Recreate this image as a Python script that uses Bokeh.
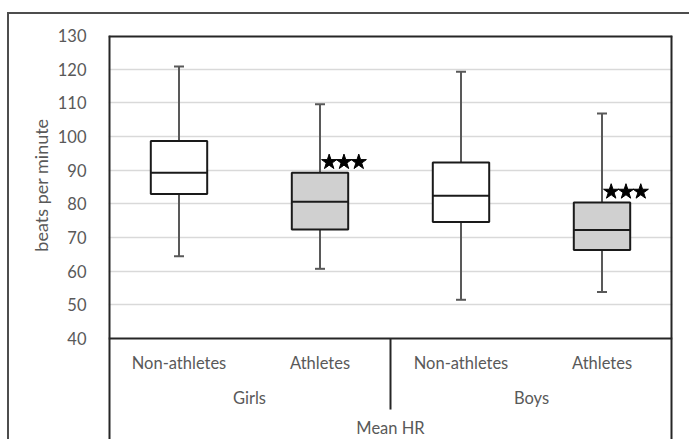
from bokeh.plotting import figure
from bokeh.models import (FactorRange, Range1d, ColumnDataSource, Whisker, TeeHead,
                          FixedTicker, Span, Title)
from bokeh.transform import dodge
from bokeh.core.properties import value
from bokeh.embed import file_html
from bokeh.resources import INLINE

# ---- data ----
groups = ["Girls", "Girls", "Boys", "Boys"]
subgroups = ["Non-athletes", "Athletes", "Non-athletes", "Athletes"]
whisker_hi = [120.8, 109.6, 119.2, 106.8]
q3 = [98.7, 89.2, 92.3, 80.4]
median = [89.2, 80.6, 82.4, 72.2]
q1 = [82.9, 72.4, 74.6, 66.3]
whisker_lo = [64.4, 60.7, 51.5, 53.8]
n_stars = [0, 3, 0, 3]
box_colors = ["#ffffff", "#d0d0d0", "#ffffff", "#d0d0d0"]
y_ticks = [40, 50, 60, 70, 80, 90, 100, 110, 120, 130]
x_title = "Mean HR"
y_title = "beats per minute"

FONT = "Lato"
FS = "16.5px"
TXT = "#595959"
LINE = "#262626"

factors = list(zip(groups, subgroups))
src = ColumnDataSource(dict(x=factors, sub=subgroups, hi=whisker_hi, q3=q3, med=median,
                            q1=q1, lo=whisker_lo, color=box_colors))

# value axis spans 40..130 in the plot area; the category band below it extends the frame
y_min_band = 10
xr = FactorRange(*factors, range_padding=0, group_padding=0, factor_padding=0,
                 subgroup_padding=0)
p = figure(x_range=xr, y_range=Range1d(y_min_band, y_ticks[-1]), width=689, height=439,
           output_backend="svg", toolbar_location=None, x_axis_location=None,
           min_border_left=108, min_border_right=17, min_border_top=35, min_border_bottom=0)
p.outline_line_color = None
p.background_fill_color = "white"
p.border_fill_color = None
p.styles = {
    "background-color": "white",
    "background-image": "linear-gradient(#4d4d4d, #4d4d4d), linear-gradient(#4d4d4d, #4d4d4d)",
    "background-size": "100% 2px, 2px 100%",
    "background-position": "7px 12px, 7px 12px",
    "background-repeat": "no-repeat",
}

yax = p.yaxis[0]
yax.ticker = FixedTicker(ticks=y_ticks)
yax.axis_line_color = None
yax.major_tick_line_color = None
yax.minor_tick_line_color = None
yax.major_label_standoff = 16
yax.major_label_text_font = FONT
yax.major_label_text_font_size = FS
yax.major_label_text_color = TXT

ytitle = Title(text=y_title, align="right", offset=83, text_font=FONT,
               text_font_size="18px", text_font_style="normal", text_color=TXT, standoff=5)
p.add_layout(ytitle, "left")

p.ygrid.ticker = FixedTicker(ticks=y_ticks[1:-1])
p.ygrid.grid_line_color = "#d9d9d9"
p.ygrid.grid_line_width = 1.5
p.xgrid.visible = False

# frame borders (top, left, right; the band continues below the picture)
p.add_layout(Span(location=y_ticks[-1], dimension="width", line_color=LINE, line_width=4))
p.add_layout(Span(location=0, dimension="height", line_color=LINE, line_width=4))
p.add_layout(Span(location=len(factors), dimension="height", line_color=LINE, line_width=4))
# baseline between the value area and the category band
p.add_layout(Span(location=y_ticks[0], dimension="width", line_color=LINE, line_width=2))
# separator between the two groups in the category band
p.segment(x0=[2], x1=[2], y0=[y_ticks[0]], y1=[18.9], line_color=LINE, line_width=2)

# boxes
p.vbar(x="x", width=0.4, top="q3", bottom="q1", source=src, fill_color="color",
       line_color="#1a1a1a", line_width=2)

# whiskers
wcol = "#595959"
w = Whisker(base="x", upper="hi", lower="lo", source=src, line_color=wcol, line_width=2,
            upper_head=TeeHead(size=10, line_color=wcol, line_width=2),
            lower_head=TeeHead(size=10, line_color=wcol, line_width=2))
p.add_layout(w)

# medians
p.segment(x0=dodge("x", -0.2, range=xr), x1=dodge("x", 0.2, range=xr), y0="med", y1="med",
          source=src, line_color="#1a1a1a", line_width=2, level="overlay")

# significance stars
star_offsets = [0.065, 0.17, 0.275]
for k, off in enumerate(star_offsets):
    xs = [f for f, n in zip(factors, n_stars) if n > k]
    ys = [t + 3.2 for t, n in zip(q3, n_stars) if n > k]
    s = ColumnDataSource(dict(x=xs, y=ys))
    p.scatter(x=dodge("x", off, range=xr), y="y", source=s, marker="star", size=16,
              fill_color="black", line_color="black", level="overlay")

# category labels
p.text(x="x", y=32.6, text="sub", source=src, text_align="center", text_baseline="middle",
       text_font=value(FONT), text_font_size=FS, text_color=TXT)
gsrc = ColumnDataSource(dict(g=list(dict.fromkeys(groups))))
p.text(x="g", y=22.2, text="g", source=gsrc, text_align="center", text_baseline="middle",
       text_font=value(FONT), text_font_size=FS, text_color=TXT)
p.text(x=[2], y=[13.4], text=[x_title], text_align="center", text_baseline="middle",
       text_font=value(FONT), text_font_size=FS, text_color=TXT)

open("out.html", "w").write(file_html(p, INLINE))
